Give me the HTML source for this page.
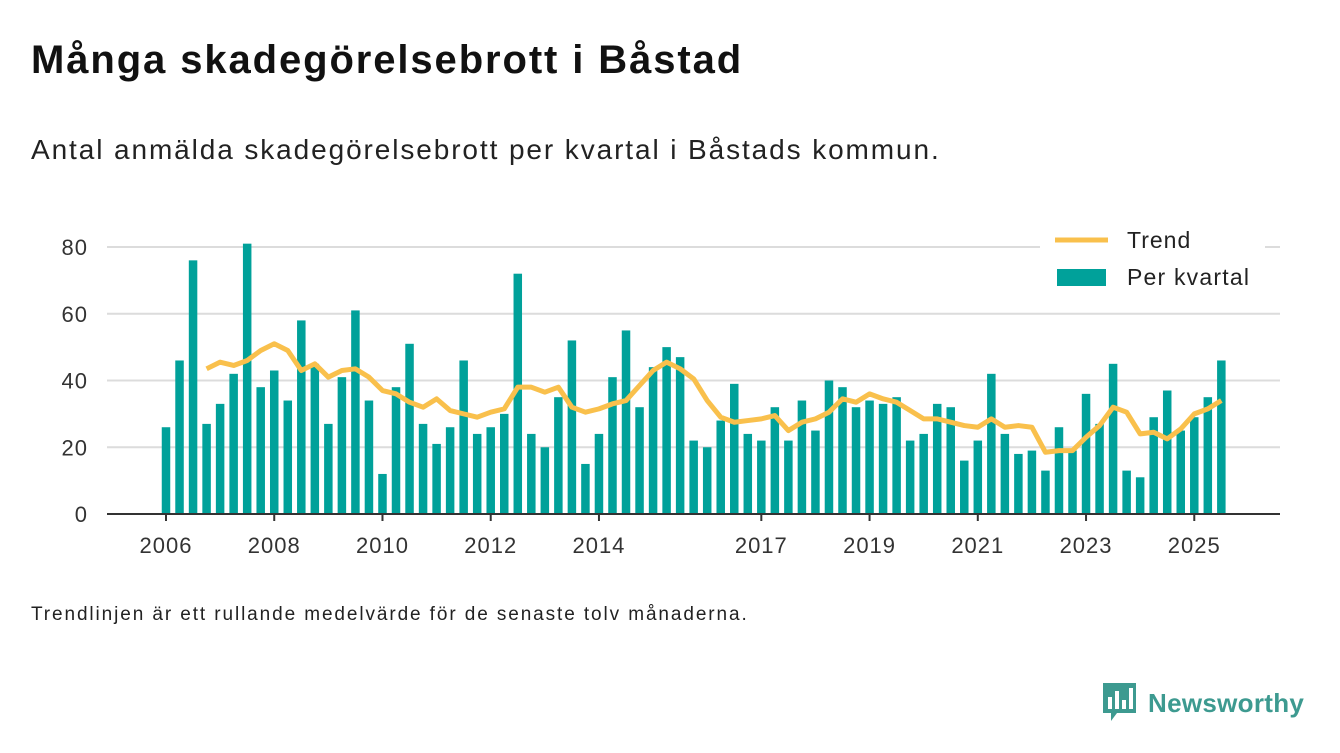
<!DOCTYPE html>
<html><head><meta charset="utf-8"><style>
body{margin:0;background:#fff;width:1340px;height:753px;overflow:hidden;font-family:"Liberation Sans",sans-serif;color:#111}
#t{position:absolute;left:31px;top:38px;font-size:40px;font-weight:bold;margin:0;letter-spacing:1.9px}
#s{position:absolute;left:31px;top:134px;font-size:28px;color:#222;letter-spacing:1.9px}
#f{position:absolute;left:31px;top:604px;font-size:19px;color:#222;letter-spacing:1.9px}
#logo{position:absolute;left:1103px;top:683px;display:flex;align-items:center}
#logo span{font-size:26px;font-weight:bold;color:#3d9a90;margin-left:12px;letter-spacing:0.3px}
svg{position:absolute;left:0;top:0}
</style></head><body>
<h1 id="t">Många skadegörelsebrott i Båstad</h1>
<div id="s">Antal anmälda skadegörelsebrott per kvartal i Båstads kommun.</div>
<div id="f">Trendlinjen är ett rullande medelvärde för de senaste tolv månaderna.</div>
<div id="logo">
<svg style="position:static" width="33" height="40" viewBox="0 0 33 40"><path d="M0 0H33V30H14L8 38V30H0Z" fill="#3d9a90"/><rect x="5" y="14" width="4" height="12" fill="#fff"/><rect x="12" y="8" width="4" height="18" fill="#fff"/><rect x="19" y="17" width="4" height="9" fill="#fff"/><rect x="26" y="5" width="4" height="21" fill="#fff"/></svg>
<span>Newsworthy</span></div>
<svg id="c" width="1340" height="753"></svg>
<script>
const values=[26,46,76,27,33,42,81,38,43,34,58,45,27,41,61,34,12,38,51,27,21,26,46,24,26,30,72,24,20,35,52,15,24,41,55,32,44,50,47,22,20,28,39,24,22,32,22,34,25,40,38,32,34,33,35,22,24,33,32,16,22,42,24,18,19,13,26,19,36,27,45,13,11,29,37,25,29,35,46];
const trend=[null,null,null,43.5,45.5,44.5,46,49,51,49,43,45,41,43,43.5,41,37,36,33.5,32,34.5,31,30,29,30.5,31.5,38,38,36.5,38,32,30.5,31.5,33,34,38.5,43,45.5,43.5,40.5,34,29,27.5,28,28.5,29.5,25,27.5,28.5,30.5,34.5,33.5,36,34.5,33.5,31,28.5,28.5,27.5,26.5,26,28.5,26,26.5,26,18.5,19,19,23,26.5,32,30.5,24,24.5,22.5,25.5,30,31.5,34];
const yTicks=[0,20,40,60,80];
const xYears=[2006,2008,2010,2012,2014,2017,2019,2021,2023,2025];
const NS='http://www.w3.org/2000/svg',svg=document.getElementById('c');
const y=v=>514-v*267/80, x=i=>166+i*13.53, xy=yr=>x((yr-2006)*4);
function mk(t,a,p){const e=document.createElementNS(NS,t);for(const k in a)e.setAttribute(k,a[k]);(p||svg).appendChild(e);return e;}
yTicks.forEach(v=>{
 if(v>0){const g=mk('line',{x1:107,x2:1280,y1:y(v),y2:y(v),stroke:'#dcdcdc','stroke-width':2});
 
 }
 const t=mk('text',{x:88,y:y(v)+8,'text-anchor':'end','font-size':22,fill:'#333','letter-spacing':1});t.textContent=v;
 
 
});
values.forEach((v,i)=>{const r=mk('rect',{x:x(i)-4.25,y:y(v),width:8.5,height:514-y(v),fill:'#00a19a'});
 
 });
const ax=mk('line',{x1:107,x2:1280,y1:514,y2:514,stroke:'#333','stroke-width':2});


xYears.forEach(yr=>{const X=xy(yr);mk('line',{x1:X,x2:X,y1:514,y2:521,stroke:'#333','stroke-width':2});
 const t=mk('text',{x:X,y:553,'text-anchor':'middle','font-size':22,fill:'#333','letter-spacing':1});t.textContent=yr;
 
 });
let d='';trend.forEach((v,i)=>{if(v!=null)d+=(d?'L':'M')+x(i)+' '+y(v);});
const p=mk('path',{d:d,fill:'none',stroke:'#f9c04c','stroke-width':5,'stroke-linejoin':'round'});


const lg=mk('g',{});


mk('rect',{x:1040,y:225,width:225,height:70,fill:'#fff'},lg);
mk('line',{x1:1055,x2:1108,y1:240,y2:240,stroke:'#f9c04c','stroke-width':5},lg);
let t1=mk('text',{x:1127,y:248,'font-size':23,fill:'#222','letter-spacing':1},lg);t1.textContent='Trend';
mk('rect',{x:1057,y:269,width:49,height:17,fill:'#00a19a'},lg);
let t2=mk('text',{x:1127,y:285,'font-size':23,fill:'#222','letter-spacing':1.2},lg);t2.textContent='Per kvartal';
</script>
</body></html>
